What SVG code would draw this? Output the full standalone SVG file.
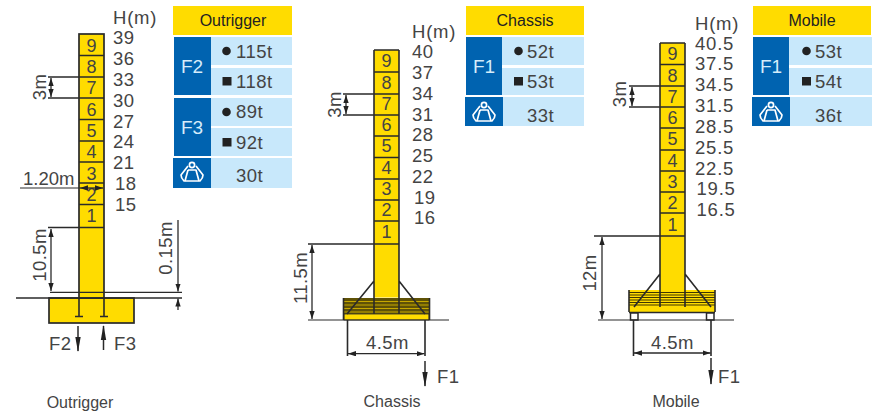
<svg xmlns="http://www.w3.org/2000/svg" width="879" height="417" viewBox="0 0 879 417">
<style>
text{font-family:"Liberation Sans",Arial,sans-serif;fill:#444}
.h{font-size:18.5px;letter-spacing:.8px}
.v{font-size:18.500px;letter-spacing:.4px}
.n{font-size:18px;text-anchor:middle}
.d{font-size:18.500px;letter-spacing:.4px}
.r{text-anchor:middle}
.c{font-size:16px;text-anchor:middle}
.t{font-size:16px;text-anchor:middle;fill:#222}
.w{font-size:19px;text-anchor:middle;fill:#d5ecfa}
.q{font-size:18.500px;letter-spacing:.5px}
.y{fill:#ffdc00}
.b{fill:#0063b0}
.l{fill:#c8e8fb}
.m{fill:#ffdc00;stroke:#2a2a2a;stroke-width:1.7}
.k{stroke:#2a2a2a;stroke-width:1.6;fill:none}
.s{stroke:#2a2a2a;stroke-width:1.2;fill:none}
.a{stroke:#2a2a2a;stroke-width:1.3;fill:none;marker-start:url(#ah);marker-end:url(#ah)}
.e{stroke:#2a2a2a;stroke-width:1.3;fill:none;marker-end:url(#ah)}
.o{stroke:#2a2a2a;stroke-width:1.5;fill:none;marker-end:url(#fa)}
.g{fill:#222}
</style>
<defs>
<marker id="ah" viewBox="0 0 9 6" refX="9" refY="3" markerWidth="8" markerHeight="5.500" markerUnits="userSpaceOnUse" orient="auto-start-reverse"><path d="M0 0L9 3L0 6Z" fill="#222"/></marker>
<marker id="fa" viewBox="0 0 14 6" refX="13" refY="3" markerWidth="15" markerHeight="7" markerUnits="userSpaceOnUse" orient="auto"><path d="M0 0.500L14 3L0 5.500Z" fill="#222"/></marker>
<g id="icon" fill="none" stroke="#fff" stroke-width="1.700" stroke-linejoin="round"><circle cx="0" cy="-7" r="2.600"/><path d="M-4-6L-11 3Q-11 6-8 9H8Q11 6 11 3L4-6"/><path d="M-4-2H4L7 9M-4-2L-7 9"/></g>
</defs>

<g id="outrigger-crane">
<rect class="m" x="49" y="298" width="85" height="25"/>
<rect class="m" x="79" y="34" width="25" height="264"/>
<path class="k" d="M79 55.500H104M79 77H104M79 98H104M79 119.500H104M79 141H104M79 162H104M79 183H104M79 204.500H104M79 227.500H104"/>
<path class="k" d="M79 298V316.500M104 298V316.500M75 316.500H83M100 316.500H108"/>
<path class="k" d="M16 298H182" stroke-width="2"/>
<path class="s" d="M50 292.300H182"/>
<text class="n" x="91.500" y="51.500">9</text><text class="n" x="91.500" y="73">8</text><text class="n" x="91.500" y="94">7</text><text class="n" x="91.500" y="115.500">6</text><text class="n" x="91.500" y="137">5</text><text class="n" x="91.500" y="158">4</text><text class="n" x="91.500" y="180">3</text><text class="n" x="91.500" y="200.500">2</text><text class="n" x="91.500" y="222">1</text>
<text class="h" x="113" y="24">H(m)</text>
<text class="v" x="113" y="44">39</text><text class="v" x="113" y="65">36</text><text class="v" x="113" y="86">33</text><text class="v" x="113" y="107">30</text><text class="v" x="113" y="128">27</text><text class="v" x="113" y="148">24</text><text class="v" x="113" y="169">21</text><text class="v" x="115" y="190">18</text><text class="v" x="115" y="211">15</text>
<text class="d" x="23" y="185" style="letter-spacing:0">1.20m</text>
<text class="d" x="49" y="350">F2</text><text class="d" x="114" y="350">F3</text>
<text class="c" x="80" y="408">Outrigger</text>
<text class="d r" transform="translate(46 87) rotate(-90)">3m</text>
<text class="d r" transform="translate(46 255) rotate(-90)">10.5m</text>
<text class="d r" transform="translate(172 248) rotate(-90)">0.15m</text>
</g>

<g id="outrigger-table">
<rect class="y" x="173" y="6" width="119" height="29"/>
<rect class="b" x="174" y="37" width="37" height="58"/><rect class="b" x="174" y="98" width="37" height="58"/><rect class="b" x="173" y="158" width="38" height="30"/>
<rect class="l" x="211" y="37" width="81" height="28"/><rect class="l" x="211" y="68" width="81" height="27"/><rect class="l" x="211" y="98" width="81" height="28"/><rect class="l" x="211" y="128" width="81" height="28"/><rect class="l" x="211" y="158" width="81" height="30"/>
<text class="t" x="233" y="26">Outrigger</text>
<text class="w" x="192" y="73">F2</text><text class="w" x="192" y="134">F3</text>
<use href="#icon" x="192" y="172"/>
<circle class="g" cx="226.500" cy="51" r="4.300"/><rect class="g" x="222.500" y="77" width="9" height="8.500"/><circle class="g" cx="226.500" cy="112" r="4.300"/><rect class="g" x="222.500" y="138" width="9" height="8.500"/>
<text class="q" x="236" y="58">115t</text><text class="q" x="236" y="88">118t</text><text class="q" x="236" y="118">89t</text><text class="q" x="236" y="149">92t</text><text class="q" x="236" y="182">30t</text>
</g>

<g id="chassis-crane">
<rect x="343.500" y="298" width="86" height="22" fill="#5f5206"/>
<path d="M344 301.500H429M344 305H429M344 308.500H429M344 312H429" stroke="#c6a800" stroke-width="1.200"/>
<rect x="344" y="314" width="85" height="6" class="y" stroke="#2a2a2a" stroke-width=".8"/>
<path class="k" d="M343.500 298V320M429.500 298V320"/>
<rect class="y" x="374" y="50" width="25" height="247.500"/>
<path class="k" d="M374 50H399M374 72H399M374 94H399M374 115H399M374 136H399M374 157.500H399M374 179H399M374 200H399M374 221H399M374 244H399M374 50V314M399 50V314M374 281L347 314M399 281L425 314"/>
<text class="n" x="386.500" y="67">9</text><text class="n" x="386.500" y="88.500">8</text><text class="n" x="386.500" y="110">7</text><text class="n" x="386.500" y="131">6</text><text class="n" x="386.500" y="152">5</text><text class="n" x="386.500" y="174">4</text><text class="n" x="386.500" y="195">3</text><text class="n" x="386.500" y="216">2</text><text class="n" x="386.500" y="238">1</text>
<text class="h" x="412" y="38">H(m)</text>
<text class="v" x="412" y="58">40</text><text class="v" x="412" y="79">37</text><text class="v" x="412" y="100">34</text><text class="v" x="412" y="121">31</text><text class="v" x="412" y="141">28</text><text class="v" x="412" y="162">25</text><text class="v" x="412" y="183">22</text><text class="v" x="414" y="204">19</text><text class="v" x="414" y="224">16</text>
<text class="d" x="366" y="349">4.5m</text><text class="d" x="437" y="383">F1</text>
<text class="c" x="392" y="407">Chassis</text>
<text class="d r" transform="translate(341 104.500) rotate(-90)">3m</text>
<text class="d r" transform="translate(307 278) rotate(-90)">11.5m</text>
</g>

<g id="chassis-table">
<rect class="y" x="466" y="6" width="118" height="29"/>
<rect class="b" x="466" y="37" width="36" height="58"/><rect class="b" x="465" y="97" width="38" height="29"/>
<rect class="l" x="502" y="37" width="82" height="28"/><rect class="l" x="502" y="68" width="82" height="27"/><rect class="l" x="503" y="97" width="81" height="29"/>
<text class="t" x="525" y="26">Chassis</text>
<text class="w" x="484" y="73">F1</text>
<use href="#icon" x="484" y="112"/>
<circle class="g" cx="518.500" cy="51" r="4.300"/><rect class="g" x="514" y="77" width="9" height="8.500"/>
<text class="q" x="527" y="58">52t</text><text class="q" x="527" y="88">53t</text><text class="q" x="527" y="122">33t</text>
</g>

<g id="mobile-crane">
<rect x="629" y="290" width="86" height="22" class="y"/>
<path d="M629 292.500H715M629 295H715M629 297.500H715M629 300H715M629 302.500H715M629 305H715" stroke="#3f3600" stroke-width="1"/>
<path class="k" d="M629 290V312M715 290V312M629 312.500H715"/>
<rect x="630.500" y="313" width="7.500" height="7" fill="#fff" stroke="#2a2a2a" stroke-width="1.500"/><rect x="706.500" y="313" width="7.500" height="7" fill="#fff" stroke="#2a2a2a" stroke-width="1.500"/>
<rect class="y" x="660" y="43" width="25" height="247"/>
<path class="k" d="M660 43H685M660 64.500H685M660 86H685M660 107H685M660 128H685M660 150H685M660 171H685M660 192H685M660 213H685M660 236H685M660 43V307M685 43V307M660 274L634 307M685 274L711 307"/>
<text class="n" x="672.500" y="60">9</text><text class="n" x="672.500" y="81.500">8</text><text class="n" x="672.500" y="102.500">7</text><text class="n" x="672.500" y="124">6</text><text class="n" x="672.500" y="145">5</text><text class="n" x="672.500" y="167">4</text><text class="n" x="672.500" y="188">3</text><text class="n" x="672.500" y="209">2</text><text class="n" x="672.500" y="231">1</text>
<text class="h" x="695" y="30">H(m)</text>
<text class="v" x="695" y="49.500" style="letter-spacing:.8px">40.5</text><text class="v" x="695" y="70" style="letter-spacing:.8px">37.5</text><text class="v" x="695" y="91" style="letter-spacing:.8px">34.5</text><text class="v" x="695" y="112" style="letter-spacing:.8px">31.5</text><text class="v" x="695" y="133" style="letter-spacing:.8px">28.5</text><text class="v" x="695" y="154" style="letter-spacing:.8px">25.5</text><text class="v" x="695" y="175" style="letter-spacing:.8px">22.5</text><text class="v" x="696.500" y="195" style="letter-spacing:.8px">19.5</text><text class="v" x="696.500" y="216" style="letter-spacing:.8px">16.5</text>
<text class="d" x="651" y="349">4.5m</text><text class="d" x="718" y="383">F1</text>
<text class="c" x="676" y="407">Mobile</text>
<text class="d r" transform="translate(626 94) rotate(-90)">3m</text>
<text class="d r" transform="translate(596 273) rotate(-90)">12m</text>
</g>

<g id="mobile-table">
<rect class="y" x="753" y="6" width="118" height="29"/>
<rect class="b" x="753" y="37" width="36" height="58"/><rect class="b" x="752" y="97" width="38" height="29"/>
<rect class="l" x="789" y="37" width="83" height="28"/><rect class="l" x="789" y="68" width="83" height="27"/><rect class="l" x="790" y="97" width="82" height="29"/>
<text class="t" x="812" y="26">Mobile</text>
<text class="w" x="771" y="73">F1</text>
<use href="#icon" x="771" y="112"/>
<circle class="g" cx="806.500" cy="51" r="4.300"/><rect class="g" x="802" y="77" width="9" height="8.500"/>
<text class="q" x="815" y="58">53t</text><text class="q" x="815" y="88">54t</text><text class="q" x="815" y="122">36t</text>
</g>

<g id="connectors">
<path class="k" d="M48 77H79M48 98H79M48 227.500H79"/>
<path class="a" d="M51 78V97"/>
<path class="a" d="M51 229V291"/>
<path class="s" d="M20 188H80"/>
<path class="a" d="M80 188H103"/>
<path class="e" d="M178 220V291.500"/><path class="e" d="M178 310V298.500"/>
<path class="o" d="M78 326V351"/><path class="o" d="M103.500 350V326"/>

<path class="k" d="M343 94H374M343 115H374M308 244H374"/>
<path class="a" d="M346 95V114"/>
<path class="a" d="M312 245V319"/>
<path class="s" d="M308 320H449"/>
<path class="k" d="M347.500 320V356M425 320V356"/>
<path class="a" d="M348 353.700H424.500"/>
<path class="o" d="M425 361V386"/>

<path class="k" d="M629 86H660M629 107H660M594 236H660"/>
<path class="a" d="M632 87V106"/>
<path class="a" d="M602 237V319"/>
<path class="s" d="M598 320H734"/>
<path class="k" d="M633.500 320V356M711 320V356"/>
<path class="a" d="M634 353H710.500"/>
<path class="o" d="M711 358V384"/>
</g>
</svg>
